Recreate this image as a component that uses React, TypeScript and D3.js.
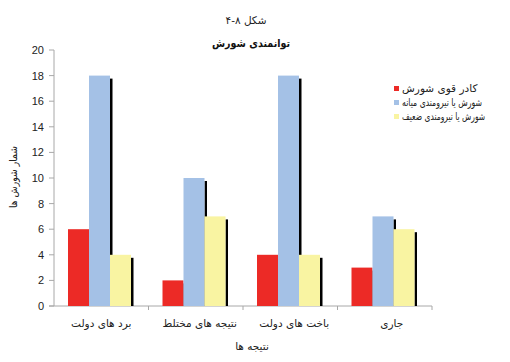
import React from "react";
import * as d3 from "d3";

const categories = ["برد های دولت", "نتیجه های مختلط", "باخت های دولت", "جاری"];
const seriesNames = ["کادر قوی شورش", "شورش یا نیرومندی میانه", "شورش یا نیرومندی ضعیف"];
const strong = [6, 2, 4, 3];
const medium = [18, 10, 18, 7];
const weak = [4, 7, 4, 6];
const yTicks = [0, 2, 4, 6, 8, 10, 12, 14, 16, 18, 20];
const colors = ["#ec2a26", "#a4c1e6", "#f9f4a2"];
const legendScale = [1.0, 0.74, 0.72];
const labelShift = [0, 4, 4, 7];

export default function App() {
  const series = [strong, medium, weak];
  const x = d3.scaleBand<string>().domain(categories).range([54, 432]).padding(0);
  const y = d3.scaleLinear().domain([0, 20]).range([306, 50]);
  const barW = 21;
  const offset = 14;
  const font = "'Liberation Sans', Arial, sans-serif";
  const fa = "'DejaVu Sans', sans-serif";
  const axisColor = "#a8a8a8";

  return (
    <svg width={510} height={362} style={{ position: "absolute", left: 0, top: 0, background: "#fff" }}>
      <rect width={510} height={362} fill="#fff" />
      <text x={246} y={24} textAnchor="middle" fontFamily={fa} fontSize={10.5} fill="#222">۴-۸ شکل</text>
      <text x={251} y={47} textAnchor="middle" fontFamily={fa} fontSize={11} fontWeight="bold" fill="#111" textLength={78} lengthAdjust="spacingAndGlyphs">توانمندی شورش</text>

      {/* y axis */}
      <line x1={54} x2={54} y1={y(20)} y2={y(0)} stroke={axisColor} />
      {yTicks.map((t) => (
        <g key={t}>
          <line x1={49} x2={54} y1={y(t)} y2={y(t)} stroke={axisColor} />
          <text x={44} y={y(t) + 4} textAnchor="end" fontFamily={font} fontSize={11} fill="#222">{t}</text>
        </g>
      ))}
      {/* x axis */}
      <line x1={49} x2={432} y1={y(0)} y2={y(0)} stroke={axisColor} />
      {categories.map((c, i) => (
        <line key={"t" + i} x1={(x(c) as number) + x.bandwidth()} x2={(x(c) as number) + x.bandwidth()} y1={y(0)} y2={y(0) + 4} stroke={axisColor} />
      ))}

      {/* bars */}
      {categories.map((c, ci) => (
        <g key={c}>
          {series.map((s, si) => {
            const bx = (x(c) as number) + offset + si * barW;
            const by = y(s[ci]);
            return (
              <g key={si}>
                <rect x={bx + barW} y={by + 3} width={2.5} height={y(0) - by - 3} fill="#000" />
                <rect x={bx} y={by} width={barW} height={y(0) - by} fill={colors[si]} />
              </g>
            );
          })}
        </g>
      ))}

      {categories.map((c, i) => (
        <text key={"l" + c} x={(x(c) as number) + x.bandwidth() / 2 + labelShift[i]} y={327} textAnchor="middle" fontFamily={fa} fontSize={10.5} fill="#222">{c}</text>
      ))}

      <text x={252} y={350} textAnchor="middle" fontFamily={fa} fontSize={10.5} fill="#222">نتیجه ها</text>
      <text transform={`translate(17,177) rotate(-90)`} textAnchor="middle" fontFamily={fa} fontSize={10.5} fill="#222" textLength={62} lengthAdjust="spacingAndGlyphs">شمار شورش ها</text>

      {/* legend */}
      {seriesNames.map((n, i) => (
        <g key={n}>
          <rect x={394} y={86 + i * 14} width={5} height={5} fill={colors[i]} />
          <text transform={`translate(402,${92 + i * 14}) scale(${legendScale[i]},1)`} fontFamily={fa} fontSize={10.5} fill="#222">{n}</text>
        </g>
      ))}
    </svg>
  );
}
